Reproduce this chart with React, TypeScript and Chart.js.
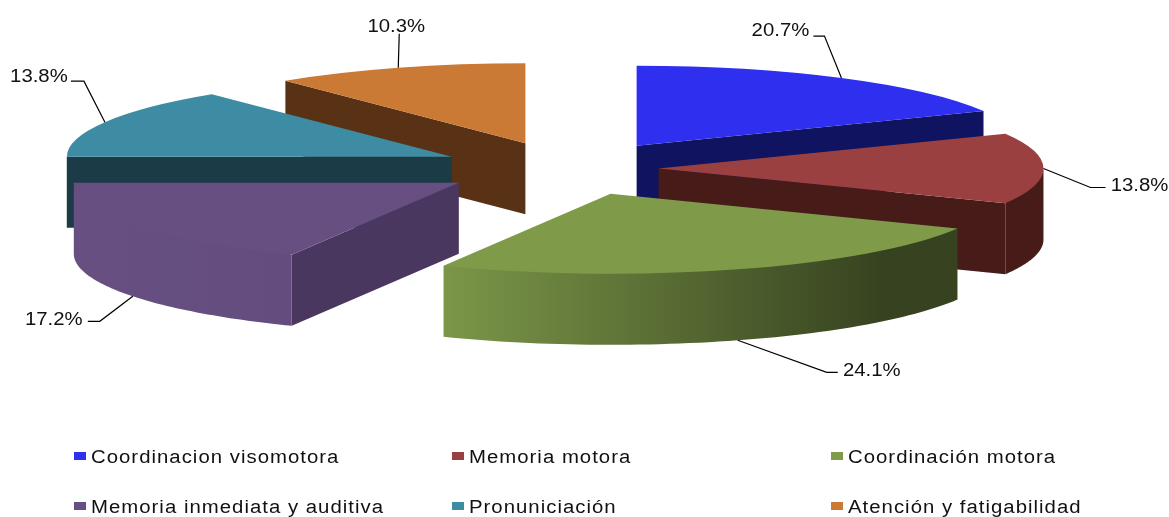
import React, { useEffect, useRef } from "react";
import { Chart, registerables } from "chart.js";

Chart.register(...registerables);

const categories = [
  "Coordinacion visomotora",
  "Memoria motora",
  "Coordinación motora",
  "Memoria inmediata y auditiva",
  "Pronuniciación",
  "Atención y fatigabilidad",
];
// Slice sizes as drawn in the picture
const sliceSizes = [5, 4, 7, 5, 4, 3];
// Percentages as printed on the picture
const percentLabels = ["20.7%", "13.8%", "24.1%", "17.2%", "13.8%", "10.3%"];
const topColors = ["#2F2FEF", "#9B4040", "#7F9B4A", "#674F82", "#3D8CA3", "#CB7A36"];
const wallColors = ["#10135F", "#461B18", "#7F9B4A", "#4A3760", "#1B3B46", "#593216"];
const explosions = [0.335, 0.235, 0.335, 0.335, 0.335, 0.335];
const paintOrder = [0, 5, 4, 1, 3, 2];

// Leader-line elbow and label position, relative to the slice's mid-arc anchor
const elbowOffsets = [[-17, -42], [47, 19], [89, 32], [-33, 25], [-21, -41], [1, -34]];
const stubLengths = [-11, 15, 11, -12, -13, 0];
const labelOffsets = [[-61, -47], [96, 18], [134, 31], [-79, 24], [-66, -45], [-2, -41]];

const CX = 568, CY = 168.5, RX = 385, RY = 80, DEPTH = 71;
const TEXT_STRETCH = 1.13;
const legendCols = [74, 452, 831];
const legendRows = [457, 507];

const shade = (hex: string, f: number) => {
  const n = parseInt(hex.slice(1), 16);
  const c = (s: number) => Math.round(((n >> s) & 255) * f);
  return `rgb(${c(16)},${c(8)},${c(0)})`;
};

const drawText = (
  ctx: CanvasRenderingContext2D,
  s: string,
  x: number,
  y: number,
  align: CanvasTextAlign,
  spacing = 0
) => {
  ctx.save();
  ctx.translate(x, y);
  ctx.scale(TEXT_STRETCH, 1);
  ctx.font = '18px "Liberation Sans", Arial, sans-serif';
  (ctx as any).letterSpacing = `${spacing}px`;
  ctx.fillStyle = "#111";
  ctx.textAlign = align;
  ctx.textBaseline = "middle";
  ctx.fillText(s, 0, 0);
  ctx.restore();
};

const pie3d = {
  id: "pie3d",
  beforeDatasetsDraw(chart: any) {
    const ctx: CanvasRenderingContext2D = chart.ctx;
    const arcs = chart.getDatasetMeta(0).data;
    const geo = arcs.map((arc: any, i: number) => {
      const mid = (arc.startAngle + arc.endAngle) / 2;
      const ax = CX + explosions[i] * RX * Math.cos(mid);
      const ay = CY + explosions[i] * RY * Math.sin(mid);
      return { arc, mid, ax, ay, s: arc.startAngle, e: arc.endAngle };
    });
    const pt = (g: any, a: number) => [g.ax + RX * Math.cos(a), g.ay + RY * Math.sin(a)];

    const quad = (g: any, a: number, color: string) => {
      const p = pt(g, a);
      ctx.fillStyle = color;
      ctx.beginPath();
      ctx.moveTo(g.ax, g.ay);
      ctx.lineTo(p[0], p[1]);
      ctx.lineTo(p[0], p[1] + DEPTH);
      ctx.lineTo(g.ax, g.ay + DEPTH);
      ctx.closePath();
      ctx.fill();
    };

    for (const i of paintOrder) {
      const g = geo[i];
      // radial walls that face the viewer; angle 0 is 3 o'clock in Chart.js
      if (Math.cos(g.s) < -0.001) quad(g, g.s, wallColors[i]);
      if (Math.cos(g.e) > 0.001) quad(g, g.e, wallColors[i]);
      // outer wall: only the part on the near half of the ellipse
      const from = Math.max(g.s, 0);
      const to = Math.min(g.e, Math.PI);
      if (to > from) {
        const grad = ctx.createLinearGradient(g.ax - RX, 0, g.ax + RX, 0);
        const base = i === 1 ? wallColors[1] : topColors[i];
        const dark = i === 1 ? 1 : 0.43;
        grad.addColorStop(0, shade(base, 1));
        grad.addColorStop(0.285, shade(base, i === 1 ? 1 : 0.97));
        grad.addColorStop(0.85, shade(base, dark));
        grad.addColorStop(1, shade(base, dark));
        ctx.fillStyle = grad;
        ctx.beginPath();
        const n = 60;
        for (let k = 0; k <= n; k++) {
          const p = pt(g, from + ((to - from) * k) / n);
          const lift = k === 0 || k === n ? 0 : 1.5;
          if (k === 0) ctx.moveTo(p[0], p[1]);
          else ctx.lineTo(p[0], p[1] - lift);
        }
        for (let k = n; k >= 0; k--) {
          const p = pt(g, from + ((to - from) * k) / n);
          ctx.lineTo(p[0], p[1] + DEPTH);
        }
        ctx.closePath();
        ctx.fill();
      }
      // top face: the library's own arc element under an elliptical transform
      ctx.save();
      ctx.translate(g.ax, g.ay);
      ctx.scale(RX / g.arc.outerRadius, RY / g.arc.outerRadius);
      ctx.translate(-g.arc.x, -g.arc.y);
      g.arc.draw(ctx);
      ctx.restore();
    }

    // leader lines and percentage labels
    geo.forEach((g: any, i: number) => {
      const p = pt(g, g.mid);
      const ay = p[1] + (Math.sin(g.mid) > 0.5 ? DEPTH : 0);
      const ex = p[0] + elbowOffsets[i][0];
      const ey = ay + elbowOffsets[i][1];
      ctx.strokeStyle = "#000";
      ctx.lineWidth = 1.2;
      ctx.beginPath();
      ctx.moveTo(p[0], ay);
      ctx.lineTo(ex, ey);
      ctx.lineTo(ex + stubLengths[i], ey);
      ctx.stroke();
      drawText(ctx, percentLabels[i], p[0] + labelOffsets[i][0], ay + labelOffsets[i][1], "center");
    });

    // legend
    categories.forEach((name, i) => {
      const x = legendCols[i % 3];
      const y = legendRows[Math.floor(i / 3)];
      ctx.fillStyle = topColors[i];
      ctx.fillRect(x, y - 5, 12, 8);
      drawText(ctx, name, x + 17, y + 1, "left", 0.9);
    });
    return false;
  },
};

export default function App() {
  const ref = useRef<HTMLCanvasElement>(null);
  useEffect(() => {
    const chart = new Chart(ref.current!, {
      type: "pie",
      data: {
        labels: categories,
        datasets: [{ data: sliceSizes, backgroundColor: topColors, borderWidth: 0 }],
      },
      options: {
        animation: false,
        responsive: false,
        events: [],
        plugins: { legend: { display: false }, tooltip: { enabled: false } },
      },
      plugins: [pie3d],
    } as any);
    return () => chart.destroy();
  }, []);
  return (
    <div style={{ position: "absolute", left: 0, top: 0, background: "#fff" }}>
      <canvas ref={ref} width={1169} height={517} style={{ display: "block" }} />
    </div>
  );
}
